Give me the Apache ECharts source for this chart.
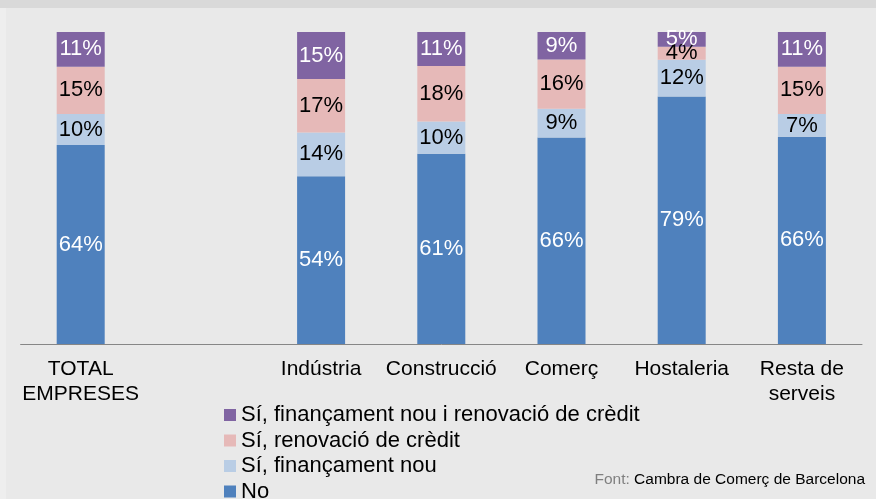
<!DOCTYPE html>
<html>
<head>
<meta charset="utf-8">
<script src="https://cdn.jsdelivr.net/npm/echarts@6/dist/echarts.min.js"></script>
<style>
  html, body { margin: 0; padding: 0; background: #e9e9e9; }
  #chart { width: 876px; height: 499px; }
</style>
</head>
<body>
<div id="chart"></div>
<script>
// categories (empty slot between the total and the sectors)
const categories = ['TOTAL\nEMPRESES', '', 'Indústria', 'Construcció', 'Comerç', 'Hostaleria', 'Resta de\nserveis']

// percentages
const noValues = [63.8, null, 53.8, 61.0, 66.2, 79.3, 66.4]
const nouValues = [9.9, null, 14.0, 10.3, 9.2, 11.8, 7.3]
const renovValues = [15.2, null, 17.1, 17.8, 15.8, 4.2, 15.2]
const ambduesValues = [11.1, null, 15.1, 10.9, 8.8, 4.7, 11.1]

const seriesNames = [
  'No',
  'Sí, finançament nou',
  'Sí, renovació de crèdit',
  'Sí, finançament nou i renovació de crèdit'
]

const FONT = "'Liberation Sans', Arial, sans-serif"

const chart = echarts.init(document.getElementById('chart'))

const makeSeries = (name, data, color, labelColor) => ({
  name,
  type: 'bar',
  stack: 'total',
  barWidth: 48,
  data,
  itemStyle: { color },
  label: {
    show: true,
    position: 'inside',
    color: labelColor,
    fontSize: 22,
    fontFamily: FONT,
    formatter: p => Math.round(p.value) + '%'
  }
})

const option = {
  backgroundColor: '#e9e9e9',
  animation: false,
  graphic: [
    { type: 'rect', left: 0, top: 0, shape: { width: 876, height: 8 }, style: { fill: '#d9d9d9' } },
    { type: 'rect', left: 0, top: 8, shape: { width: 6, height: 491 }, style: { fill: '#eeeeee' } },
    {
      type: 'text',
      right: 11,
      top: 472,
      style: {
        text: '{a|Font: }{b|Cambra de Comerç de Barcelona}',
        rich: {
          a: { fill: '#7f7f7f', fontSize: 15.5, fontFamily: FONT },
          b: { fill: '#000000', fontSize: 15.5, fontFamily: FONT }
        }
      }
    }
  ],
  legend: {
    orient: 'vertical',
    left: 224,
    top: 404,
    height: 200,
    padding: 0,
    itemWidth: 12,
    itemHeight: 12,
    itemGap: 3.5,
    icon: 'rect',
    data: [seriesNames[3], seriesNames[2], seriesNames[1], seriesNames[0]],
    textStyle: { color: '#000', fontSize: 22, fontFamily: FONT, padding: [0, 0, 0, 0] }
  },
  grid: {
    left: 20.6,
    right: 14,
    top: 32,
    bottom: 155
  },
  xAxis: {
    type: 'category',
    data: categories,
    axisLine: { lineStyle: { color: '#868686', width: 1 } },
    axisTick: { show: false },
    axisLabel: {
      color: '#000',
      fontSize: 21,
      lineHeight: 25,
      fontFamily: FONT,
      margin: 13,
      interval: 0
    }
  },
  yAxis: {
    type: 'value',
    min: 0,
    max: 100,
    show: false
  },
  series: [
    makeSeries(seriesNames[0], noValues, '#4f81bd', '#ffffff'),
    makeSeries(seriesNames[1], nouValues, '#b9cde5', '#000000'),
    makeSeries(seriesNames[2], renovValues, '#e6b9b8', '#000000'),
    makeSeries(seriesNames[3], ambduesValues, '#8064a2', '#ffffff')
  ]
}

chart.setOption(option)
</script>
</body>
</html>
